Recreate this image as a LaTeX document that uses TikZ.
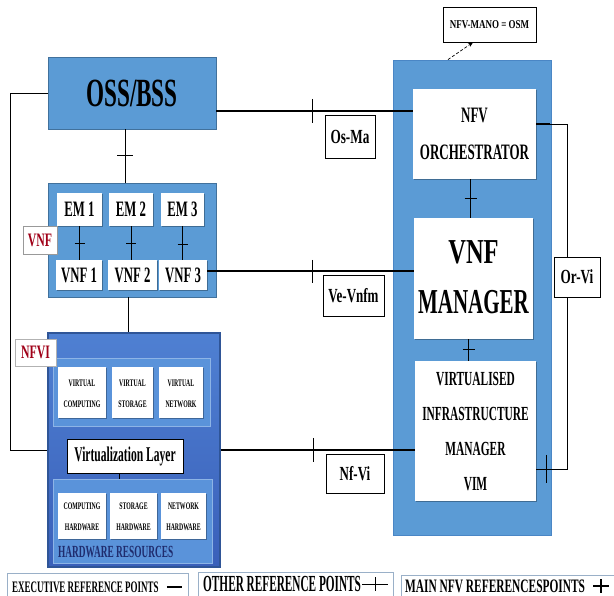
\documentclass[tikz,border=0pt]{standalone}
\usepackage{fontspec}
\setmainfont{Liberation Serif}
\usetikzlibrary{arrows.meta,shadows}
\newcommand{\cnd}[2][0.6]{\scalebox{#1}[1]{#2}}
\newcommand{\fs}[2]{\fontsize{#1}{#2}\selectfont}
\definecolor{manoblue}{HTML}{5B9BD5}
\definecolor{manoedge}{HTML}{4A86C5}
\definecolor{ossedge}{HTML}{41719C}
\definecolor{nfvitop}{HTML}{4F80D2}
\definecolor{nfvibot}{HTML}{3A60BA}
\definecolor{nfviedge}{HTML}{2F5597}
\definecolor{panel}{HTML}{5A93DA}
\definecolor{paneledge}{HTML}{8DB4E6}
\definecolor{lblred}{HTML}{A00018}
\definecolor{navy}{HTML}{1F2C6E}
\definecolor{legedge}{HTML}{9AB0C8}
\begin{document}
\begin{tikzpicture}[x=1pt,y=-1pt,
  wb/.style={fill=white, inner sep=0pt, font=\bfseries,
             drop shadow={shadow xshift=1.2pt, shadow yshift=-1.2pt, opacity=0.3, fill=black}},
  lbl/.style={draw=black, line width=0.8pt, fill=white, inner sep=0pt, font=\bfseries},
  conn/.style={draw=black, line width=1.1pt},
  thin conn/.style={draw=black, line width=0.7pt},
  tk/.style={draw=black, line width=1pt},
  legbox/.style={draw=legedge, line width=0.8pt, fill=white, inner sep=0pt, anchor=north west}]
\fill[white] (0,0) rectangle (614,596);
\useasboundingbox (0,0) rectangle (614,596);
\clip (0,0) rectangle (614,596);

% ---------- containers ----------
\node[fill=manoblue, draw=manoedge, line width=0.8pt, minimum width=158, minimum height=475, inner sep=0pt] (mano) at (472,297.5) {};
\node[fill=manoblue, draw=ossedge, line width=0.8pt, minimum width=168, minimum height=72, inner sep=0pt,
      font=\fs{40}{40}\bfseries] (oss) at (132,93) {\cnd[0.58]{OSS/BSS}};
\node[fill=manoblue, draw=ossedge, line width=0.8pt, minimum width=168, minimum height=114, inner sep=0pt] (vnfbox) at (132,240) {};
\node[top color=nfvitop, bottom color=nfvibot, draw=nfviedge, line width=1.2pt, minimum width=172, minimum height=234, inner sep=0pt] (nfvi) at (134,450) {};
\node[fill=panel, draw=paneledge, line width=0.8pt, minimum width=157, minimum height=68, inner sep=0pt] (vpanel) at (131.5,392) {};
\node[fill=panel, draw=paneledge, line width=0.8pt, minimum width=159, minimum height=84, inner sep=0pt] (hpanel) at (132.5,521) {};

% ---------- VNF block ----------
\node[wb, minimum width=45, minimum height=33, font=\fs{22}{22}\bfseries] (em1) at (79.5,209.5) {\cnd[0.58]{EM 1}};
\node[wb, minimum width=44, minimum height=33, font=\fs{22}{22}\bfseries] (em2) at (131,209.5) {\cnd[0.58]{EM 2}};
\node[wb, minimum width=43, minimum height=33, font=\fs{22}{22}\bfseries] (em3) at (182.5,209.5) {\cnd[0.58]{EM 3}};
\node[wb, minimum width=46, minimum height=30, font=\fs{22}{22}\bfseries] (vnf1) at (79,275) {\cnd[0.58]{VNF 1}};
\node[wb, minimum width=49, minimum height=30, font=\fs{22}{22}\bfseries] (vnf2) at (132.5,275) {\cnd[0.58]{VNF 2}};
\node[wb, minimum width=48, minimum height=30, font=\fs{22}{22}\bfseries] (vnf3) at (183,275) {\cnd[0.58]{VNF 3}};
\node[draw=black!40, line width=0.6pt, fill=white, inner sep=0pt, minimum width=34, minimum height=28,
      font=\fs{19}{19}\bfseries, text=lblred] (vnflbl) at (40,240) {\cnd[0.62]{VNF}};

% ---------- NFVI block ----------
\node[draw=black!30, line width=0.6pt, fill=white, inner sep=0pt, minimum width=41, minimum height=27,
      font=\fs{19}{19}\bfseries, text=lblred] (nfvilbl) at (35.5,352.5) {\cnd[0.62]{NFVI}};
\node[wb, minimum width=48, minimum height=51, font=\fs{10}{21}\bfseries] (vc) at (82,392.5)
  {\cnd[0.58]{\begin{tabular}{@{}c@{}}VIRTUAL\\COMPUTING\end{tabular}}};
\node[wb, minimum width=41, minimum height=51, font=\fs{10}{21}\bfseries] (vs) at (132.5,392.5)
  {\cnd[0.58]{\begin{tabular}{@{}c@{}}VIRTUAL\\STORAGE\end{tabular}}};
\node[wb, minimum width=44, minimum height=51, font=\fs{10}{21}\bfseries] (vn) at (181,392.5)
  {\cnd[0.58]{\begin{tabular}{@{}c@{}}VIRTUAL\\NETWORK\end{tabular}}};
\node[lbl, minimum width=116, minimum height=34, font=\fs{21}{21}\bfseries] (vlayer) at (125,456)
  {\cnd[0.55]{Virtualization Layer}};
\node[wb, minimum width=48, minimum height=46, font=\fs{10}{21}\bfseries] (ch) at (82,516)
  {\cnd[0.58]{\begin{tabular}{@{}c@{}}COMPUTING\\HARDWARE\end{tabular}}};
\node[wb, minimum width=47, minimum height=46, font=\fs{10}{21}\bfseries] (sh) at (133.5,516)
  {\cnd[0.58]{\begin{tabular}{@{}c@{}}STORAGE\\HARDWARE\end{tabular}}};
\node[wb, minimum width=45, minimum height=46, font=\fs{10}{21}\bfseries] (nh) at (183.5,516)
  {\cnd[0.58]{\begin{tabular}{@{}c@{}}NETWORK\\HARDWARE\end{tabular}}};
\node[anchor=west, inner sep=0pt, font=\fs{17}{17}\bfseries, text=navy] (hwres) at (58,552)
  {\cnd[0.55]{HARDWARE RESOURCES}};

% ---------- MANO block ----------
\node[wb, minimum width=123, minimum height=90, font=\fs{22}{37}\bfseries] (nfvo) at (474.5,134)
  {\cnd[0.59]{\begin{tabular}{@{}c@{}}NFV\\ORCHESTRATOR\end{tabular}}};
\node[wb, minimum width=119, minimum height=121, font=\fs{35}{50}\bfseries] (vnfm) at (473.5,278.5)
  {\begin{tabular}{@{}c@{}}\cnd[0.7]{VNF}\\\cnd[0.6]{MANAGER}\end{tabular}};
\node[wb, minimum width=121, minimum height=128, font=\fs{20}{35}\bfseries] (vim) at (475.5,431)
  {\cnd[0.57]{\begin{tabular}{@{}c@{}}VIRTUALISED\\INFRASTRUCTURE\\MANAGER\\VIM\end{tabular}}};
\node[lbl, minimum width=93, minimum height=35, font=\fs{12}{12}\bfseries] (manolbl) at (489.5,24.5)
  {\cnd[0.75]{NFV-MANO = OSM}};

% ---------- connectors ----------
% left loop OSS/BSS -- NFVI
\draw[thin conn] (oss.west) -- ++(-37,0) |- (nfvi.west);
% OSS -- VNF
\draw[thin conn] ([xshift=-7pt]oss.south) -- coordinate[pos=0.5] (t1) ([xshift=-7pt]vnfbox.north);
\draw[tk] (t1) ++(-8,0) -- ++(16,0);
% EM -- VNF
\draw[thin conn] (em1.south) -- coordinate[pos=0.5] (t2) (em1.south |- vnf1.north);
\draw[thin conn] (em2.south) -- coordinate[pos=0.5] (t3) (em2.south |- vnf2.north);
\draw[thin conn] (em3.south) -- coordinate[pos=0.55] (t4) (em3.south |- vnf3.north);
\draw[tk, line width=0.8pt] (t2) ++(-5,0) -- ++(10,0);
\draw[tk, line width=0.8pt] (t3) ++(-5,0) -- ++(10,0);
\draw[tk, line width=0.8pt] (t4) ++(-5,0) -- ++(10,0);
% VNF -- NFVI
\draw[thin conn] ([xshift=-4pt]vnfbox.south) -- ([xshift=-4pt]vnfbox.south |- nfvi.north);
% Virtualization layer -- hardware panel
\draw[thin conn] ([xshift=-6pt]vlayer.south) -- ([xshift=-6pt]vlayer.south |- hpanel.north);

% Os-Ma
\coordinate (osA) at ([yshift=-18pt]oss.east);
\draw[conn] (osA) -- coordinate[pos=0.49] (t5) (osA -| nfvo.west);
\draw[tk] (t5) ++(0,-12) -- ++(0,24);
% Ve-Vnfm
\coordinate (veA) at ([yshift=4pt]vnf3.east);
\draw[conn] (veA) -- coordinate[pos=0.51] (t6) (veA -| vnfm.west);
\draw[tk] (t6) ++(0,-11) -- ++(0,23);
% Nf-Vi
\draw[conn] (nfvi.east) -- coordinate[pos=0.48] (t7) (nfvi.east -| vim.west);
\draw[tk] (t7) ++(0,-12) -- ++(0,24);
% NFVO -- VNFM
\draw[thin conn] ([xshift=-4pt]nfvo.south) -- coordinate[pos=0.5] (t8) ([xshift=-4pt]nfvo.south |- vnfm.north);
\draw[tk] (t8) ++(-6,0) -- ++(12,0);
% VNFM -- VIM
\draw[thin conn] ([xshift=-5pt]vnfm.south) -- coordinate[pos=0.46] (t9) ([xshift=-5pt]vnfm.south |- vim.north);
\draw[tk] (t9) ++(-6,0) -- ++(12,0);
% Or-Vi
\coordinate (orA) at ([yshift=10pt]nfvo.east);
\coordinate (orB) at ([yshift=-38pt]vim.east);
\draw[conn, line width=1.5pt] (orA) -- ++(14,0);
\draw[thin conn] (orA) -- ++(31,0) |- coordinate[pos=0.84] (t10) (orB);
\draw[tk, line width=0.8pt] (t10) ++(0,-14) -- ++(0,28);
% MANO label arrow
\draw[densely dashed, line width=0.7pt, -{Stealth[length=5pt,width=4pt]}] ([xshift=-24pt]mano.north) -- ([xshift=-16.5pt]manolbl.south);

% ---------- reference point labels ----------
\node[lbl, minimum width=50, minimum height=43, font=\fs{20}{20}\bfseries] (osma) at (350,136.5) {\cnd[0.66]{Os-Ma}};
\node[lbl, minimum width=61, minimum height=41, font=\fs{20}{20}\bfseries] (vevnfm) at (353.5,295.5) {\cnd[0.65]{Ve-Vnfm}};
\node[lbl, minimum width=58, minimum height=39, font=\fs{20}{20}\bfseries] (nfvilink) at (355,473.5) {\cnd[0.65]{Nf-Vi}};
\node[lbl, minimum width=46, minimum height=40, font=\fs{20}{20}\bfseries] (orvi) at (577,277) {\cnd[0.66]{Or-Vi}};

% ---------- legend ----------
\node[legbox, minimum width=181, minimum height=32] (leg1) at (7,573) {};
\node[anchor=west, inner sep=0pt, font=\fs{16}{16}\bfseries] (leg1t) at (12,587) {\cnd[0.56]{EXECUTIVE REFERENCE POINTS}};
\draw[line width=1.1pt] ([xshift=8pt]leg1t.east) -- ++(15,0);

\node[legbox, minimum width=195, minimum height=32] (leg2) at (198,572) {};
\node[anchor=west, inner sep=0pt, font=\fs{23}{23}\bfseries] (leg2t) at (203,584) {\cnd[0.49]{OTHER REFERENCE POINTS}};
\draw[line width=0.7pt] ([xshift=1pt]leg2t.east) -- ++(26,0);
\draw[line width=0.7pt] ([xshift=14pt]leg2t.east) ++(0,-7) -- ++(0,14);

\node[legbox, minimum width=220, minimum height=32] (leg3) at (401,575) {};
\node[anchor=west, inner sep=0pt, font=\fs{19}{19}\bfseries] (leg3t) at (405,586) {\cnd[0.6]{MAIN NFV REFERENCESPOINTS}};
\draw[line width=2pt] ([xshift=8pt]leg3t.east) -- ++(16,0);
\draw[line width=2pt] ([xshift=16pt]leg3t.east) ++(0,-7) -- ++(0,14);
\end{tikzpicture}
\end{document}
